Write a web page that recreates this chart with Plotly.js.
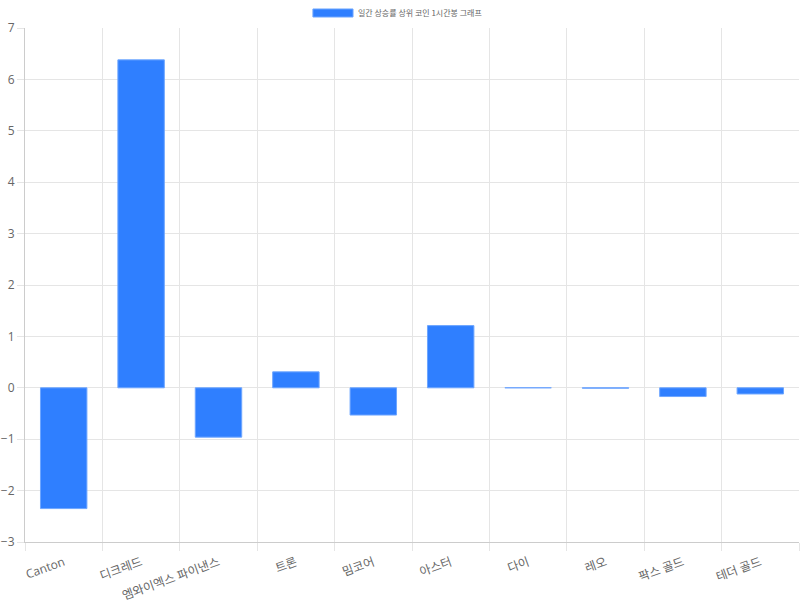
<!DOCTYPE html>
<html>
<head>
<meta charset="utf-8">
<script src="https://cdn.plot.ly/plotly-3.0.1.min.js"></script>
<style>html,body{margin:0;padding:0;background:#fff;}#chart{width:800px;height:600px;}</style>
</head>
<body>
<div id="chart"></div>
<script>
const categories = ['Canton', '디크레드', '엠와이엑스 파이낸스', '트론', '밈코어', '아스터', '다이', '레오', '팍스 골드', '테더 골드'];
const values = [-2.35, 6.38, -0.96, 0.31, -0.53, 1.21, 0.001, -0.008, -0.17, -0.12];
const seriesName = '일간 상승률 상위 코인 1시간봉 그래프';
const yTicks = [-3, -2, -1, 0, 1, 2, 3, 4, 5, 6, 7];

const fontFam = 'Open Sans, Noto Sans CJK KR, sans-serif';
const gridC = '#e5e5e5';

const trace = {
  type: 'bar',
  x: categories,
  y: values,
  name: seriesName,
  marker: {color: '#2f7fff', line: {color: '#6ea6ff', width: 1}},
  hoverinfo: 'x+y',
  showlegend: false
};

const layout = {
  width: 800, height: 600,
  margin: {l: 25, r: 1, t: 28, b: 58},
  paper_bgcolor: '#fff', plot_bgcolor: '#fff',
  bargap: 0.4,
  font: {family: fontFam, size: 12, color: '#666'},
  xaxis: {
    type: 'category',
    tickson: 'boundaries',
    showgrid: true, gridcolor: gridC, gridwidth: 1,
    ticks: 'outside', ticklen: 8, tickcolor: gridC,
    tickangle: -20,
    ticklabelstandoff: 8,
    showline: true, linecolor: '#ccc', linewidth: 1,
    tickfont: {family: fontFam, size: 12, color: '#666'},
    range: [-0.5, 9.5]
  },
  yaxis: {
    range: [-3, 7],
    tickvals: yTicks,
    showgrid: true, gridcolor: gridC, gridwidth: 1,
    zeroline: true, zerolinecolor: gridC, zerolinewidth: 1,
    ticks: 'outside', ticklen: 7, tickcolor: gridC,
    showline: true, linecolor: '#ccc', linewidth: 1,
    tickfont: {family: fontFam, size: 12, color: '#666'}
  },
  shapes: [{
    type: 'rect', xref: 'paper', yref: 'paper',
    x0: 0.372, x1: 0.4238, y0: 1.0214, y1: 1.037,
    fillcolor: '#2f7fff', line: {color: '#6ea6ff', width: 1}
  }],
  annotations: [{
    xref: 'paper', yref: 'paper', x: 0.428, y: 1.0292,
    xanchor: 'left', yanchor: 'middle', showarrow: false,
    text: seriesName,
    font: {family: 'Noto Sans CJK KR, sans-serif', size: 8, color: '#666'}
  }]
};

Plotly.newPlot('chart', [trace], layout, {displayModeBar: false, staticPlot: true});
</script>
</body>
</html>
